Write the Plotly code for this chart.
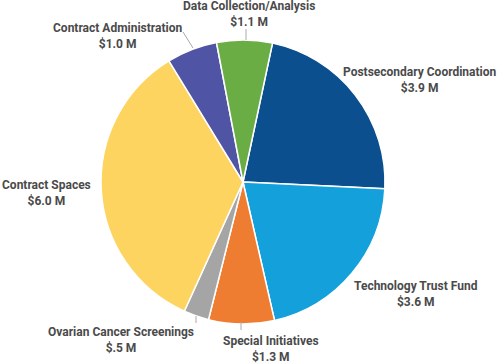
import plotly.graph_objects as go

categories = ["Postsecondary Coordination", "Technology Trust Fund", "Special Initiatives",
              "Ovarian Cancer Screenings", "Contract Spaces", "Contract Administration",
              "Data Collection/Analysis"]
values = [3.9, 3.6, 1.3, 0.5, 6.0, 1.0, 1.1]
value_labels = ["$3.9 M", "$3.6 M", "$1.3 M", "$.5 M", "$6.0 M", "$1.0 M", "$1.1 M"]
colors = ["#0b4f8f", "#14a0db", "#ee7d31", "#a5a5a5", "#fed460", "#5054a4", "#6aad45"]

# label centres in pixels (x, y from top)
label_pos = [(420, 80), (416, 294), (271, 349), (121, 340), (46, 193), (117, 36), (249, 14)]
# leader lines in pixels (x0, y0, x1, y1)
leaders = [(183, 32, 193, 48), (246, 29, 246, 40), (196, 316, 196, 323), (241, 322, 241, 330)]

W, H = 500, 363
cx, cy, r = 243, 182, 142


def px(x):
    return x / W


def py(y):
    return 1 - y / H


fig = go.Figure(go.Pie(
    labels=categories, values=values, sort=False, direction="clockwise", rotation=12,
    marker=dict(colors=colors, line=dict(color="white", width=1.5)),
    textinfo="none", hoverinfo="label+value",
    domain=dict(x=[(cx - r) / W, (cx + r) / W], y=[(H - cy - r) / H, (H - cy + r) / H]),
))

for cat, val, (x, y) in zip(categories, value_labels, label_pos):
    fig.add_annotation(
        x=px(x), y=py(y), xref="paper", yref="paper", showarrow=False,
        text=f"{cat}<br>{val}", align="center", xanchor="center", yanchor="middle",
        font=dict(family="Roboto", size=12, color="#4a4a4a", weight="bold"),
    )

for x0, y0, x1, y1 in leaders:
    fig.add_shape(type="line", xref="paper", yref="paper",
                  x0=px(x0), y0=py(y0), x1=px(x1), y1=py(y1),
                  line=dict(color="#aaaaaa", width=1))

fig.update_layout(width=W, height=H, margin=dict(l=0, r=0, t=0, b=0),
                  showlegend=False, paper_bgcolor="white", plot_bgcolor="white")

fig.write_html("out.html", config={"displayModeBar": False},
               post_script="document.body.style.margin='0';")
